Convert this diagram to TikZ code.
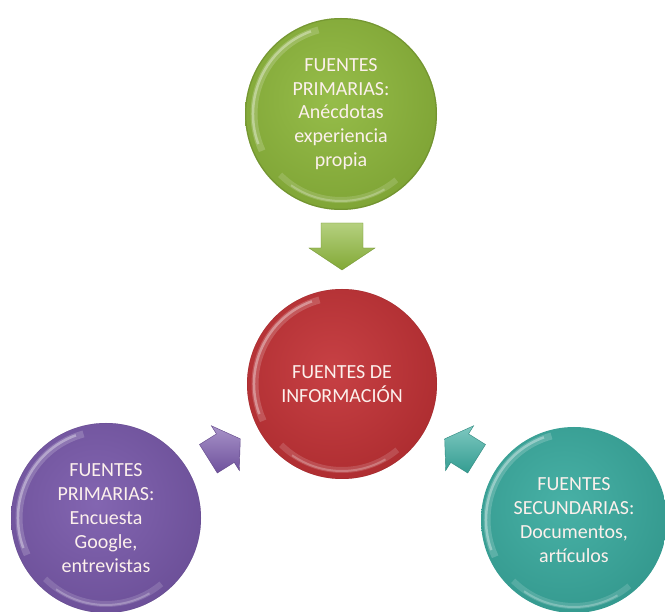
\documentclass[tikz,border=0pt]{standalone}
\usepackage{fontspec}
\setmainfont{Carlito}
\definecolor{cgreen}{RGB}{141,183,58}
\definecolor{cred}{RGB}{194,48,52}
\definecolor{cpurple}{RGB}{120,88,170}
\definecolor{cteal}{RGB}{56,170,158}
\definecolor{txt}{RGB}{252,240,236}
\tikzset{
  ball/.style={circle, minimum size=#1, inner sep=0pt, align=center,
    text=txt, font=\fontsize{20}{23.8}\selectfont},
  glossy/.style={path picture={
      \shade[inner color=#1!92!white, outer color=#1!88!black]
        ([xshift=-10pt,yshift=15pt]path picture bounding box.center) circle (130pt);
      \draw[white, opacity=0.18, line width=7pt]
        (path picture bounding box.center) ++(205:87pt)
        arc[start angle=205, end angle=105, radius=87pt];
      \draw[white, opacity=0.35, line width=2.5pt]
        (path picture bounding box.center) ++(200:88pt)
        arc[start angle=200, end angle=110, radius=88pt];
      \draw[white, opacity=0.15, line width=6pt]
        (path picture bounding box.center) ++(-50:86pt)
        arc[start angle=-50, end angle=-135, radius=86pt];
      \draw[white, opacity=0.25, line width=2pt]
        (path picture bounding box.center) ++(-60:87pt)
        arc[start angle=-60, end angle=-125, radius=87pt];
      \draw[#1!70!black, opacity=0.45, line width=2.5pt]
        (path picture bounding box.center) circle (96pt);
    }},
  arrowfill/.style={top color=#1!65!white, bottom color=#1!92!black,
    draw=#1!80!black, line width=0.4pt}
}
% block arrow pointing along local +x, centered at origin
\newcommand{\blockarr}[4]{% name, center, angle, scale, colour via \arrcol
  \begin{scope}[shift={#2}, rotate=#3, scale=#4]
    \shade[arrowfill=\arrcol] (-23,-21) -- (2,-21) -- (2,-33) -- (24,0)
      -- (2,33) -- (2,21) -- (-23,21) -- cycle;
    \coordinate (#1) at (0,0);
  \end{scope}}
\begin{document}
\begin{tikzpicture}[x=1pt,y=-1pt]
\useasboundingbox (0,0) rectangle (665,612);
\fill[white] (0,0) rectangle (665,612);

\node[ball=192pt, glossy=cgreen] (green) at (341,114)
  {FUENTES\\PRIMARIAS:\\Anécdotas\\experiencia\\propia};
\node[ball=190pt, glossy=cred] (red) at (342,384)
  {FUENTES DE\\INFORMACIÓN};
\node[ball=190pt, glossy=cpurple] (purple) at (106,518)
  {FUENTES\\PRIMARIAS:\\Encuesta\\Google,\\entrevistas};
\node[ball=186pt, glossy=cteal] (teal) at (574,520)
  {FUENTES\\SECUNDARIAS:\\Documentos,\\artículos};

\def\arrcol{cgreen}\blockarr{agreen}{(342,246)}{-90}{1}
\def\arrcol{cpurple}\blockarr{apurple}{(224,449)}{32}{0.8}
\def\arrcol{cteal}\blockarr{ateal}{(461,449)}{148}{0.8}
\end{tikzpicture}
\end{document}
